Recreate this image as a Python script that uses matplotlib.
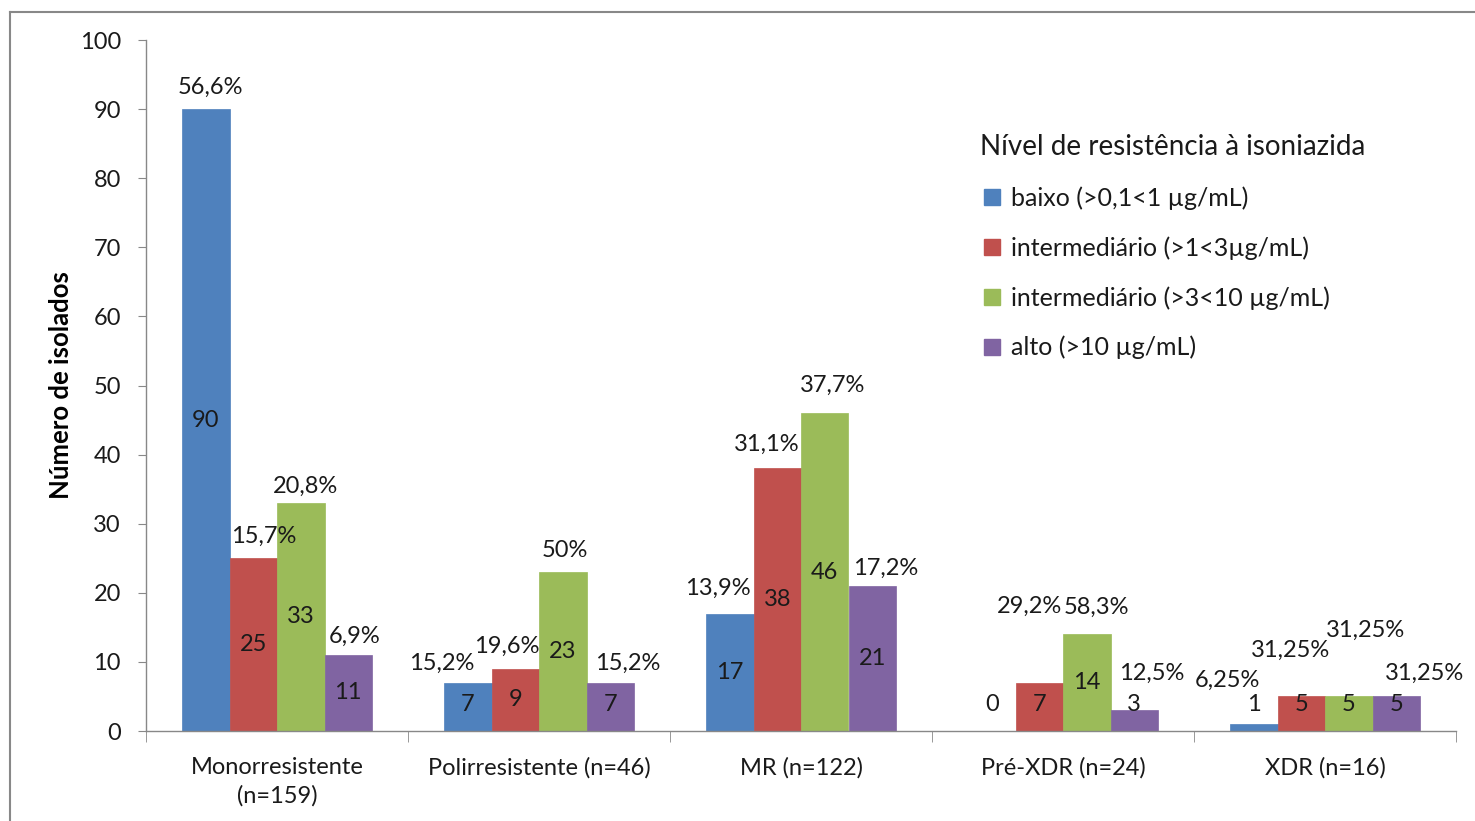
import matplotlib
matplotlib.use("Agg")
import matplotlib.pyplot as plt
from matplotlib.lines import Line2D
import numpy as np

plt.rcParams['font.family'] = ['Lato', 'DejaVu Sans']

categories = ["Monorresistente\n(n=159)", "Polirresistente (n=46)", "MR (n=122)",
              "Pré-XDR (n=24)", "XDR (n=16)"]
series_names = ["baixo (>0,1<1 µg/mL)", "intermediário (>1<3µg/mL)",
                "intermediário (>3<10 µg/mL)", "alto (>10 µg/mL)"]
baixo = [90, 7, 17, 0, 1]
interm1 = [25, 9, 38, 7, 5]
interm2 = [33, 23, 46, 14, 5]
alto = [11, 7, 21, 3, 5]
pct_baixo = ["56,6%", "15,2%", "13,9%", "", "6,25%"]
pct_interm1 = ["15,7%", "19,6%", "31,1%", "29,2%", "31,25%"]
pct_interm2 = ["20,8%", "50%", "37,7%", "58,3%", "31,25%"]
pct_alto = ["6,9%", "15,2%", "17,2%", "12,5%", "31,25%"]

values = [baixo, interm1, interm2, alto]
pcts = [pct_baixo, pct_interm1, pct_interm2, pct_alto]
colors = ["#4F81BD", "#C0504D", "#9BBB59", "#8064A2"]

# label offsets in pixels (dx, dy above bar top), style only
pct_offsets = [
    [(5, 22), (-26, 19), (-12, 25), (0, 0), (-26, 44)],
    [(10, 22), (-8, 22), (-11, 24), (-10, 76), (-11, 46)],
    [(5, 17), (2, 22), (8, 28), (10, 27), (17, 66)],
    [(6, 19), (17, 19), (13, 18), (17, 37), (28, 23)],
]

W, H = 1475, 821
fig = plt.figure(figsize=(W / 100, H / 100), dpi=100)
ax = fig.add_axes([146 / W, 1 - 731 / H, (1456 - 146) / W, (731 - 40) / H])

x = np.arange(len(categories))
bw = 47.5 / 262
fs = 17
tc = "#1a1a1a"

for i, (vals, col) in enumerate(zip(values, colors)):
    xs = x + (i - 1.5) * bw
    ax.bar(xs, vals, width=bw, color=col, edgecolor=col, linewidth=0.5)
    for j, v in enumerate(vals):
        ax.text(xs[j], max(v / 2, 3.8), str(v), ha="center", va="center",
                fontsize=fs, color=tc)
        if pcts[i][j]:
            dx, dy = pct_offsets[i][j]
            ax.annotate(pcts[i][j], (xs[j], v), xytext=(dx, dy),
                        textcoords="offset pixels", ha="center", va="center",
                        fontsize=fs, color=tc)

ax.set_xlim(-0.5, len(categories) - 0.5)
ax.set_ylim(0, 100)
ax.set_yticks(range(0, 101, 10))
ax.tick_params(axis="y", labelsize=fs, length=6, color="#888888", pad=12,
               labelcolor=tc)
ax.set_xticks(x)
ax.set_xticklabels(categories, fontsize=fs, color=tc, linespacing=1.4)
ax.tick_params(axis="x", length=0, pad=19)
ax.set_xticks(np.arange(-0.5, len(categories)), minor=True)
ax.tick_params(axis="x", which="minor", length=8, color="#888888")
for s in ["top", "right"]:
    ax.spines[s].set_visible(False)
for s in ["left", "bottom"]:
    ax.spines[s].set_color("#888888")
    ax.spines[s].set_linewidth(1)

ax.set_ylabel("Número de isolados", fontsize=18.5, fontweight="bold", labelpad=5,
              color="black")

handles = [Line2D([], [], marker="s", linestyle="", markersize=11,
                  markerfacecolor=c, markeredgecolor=c) for c in colors]
leg = fig.legend(handles, series_names, loc="upper left",
                 bbox_to_anchor=(970 / W, 1 - 124 / H), frameon=False,
                 fontsize=18, title="Nível de resistência à isoniazida",
                 title_fontsize=20, labelspacing=1.05, handletextpad=0.25,
                 handlelength=1.0, borderaxespad=0)
leg._legend_box.align = "left"
leg.get_title().set_color(tc)
for t in leg.get_texts():
    t.set_color(tc)

# outer frame
fig.add_artist(Line2D([10 / W, 10 / W], [0, 1 - 12 / H], transform=fig.transFigure,
                      color="#888888", linewidth=1.5))
fig.add_artist(Line2D([10 / W, 1], [1 - 12 / H, 1 - 12 / H], transform=fig.transFigure,
                      color="#888888", linewidth=1.5))

fig.savefig("out.png", dpi=100)
